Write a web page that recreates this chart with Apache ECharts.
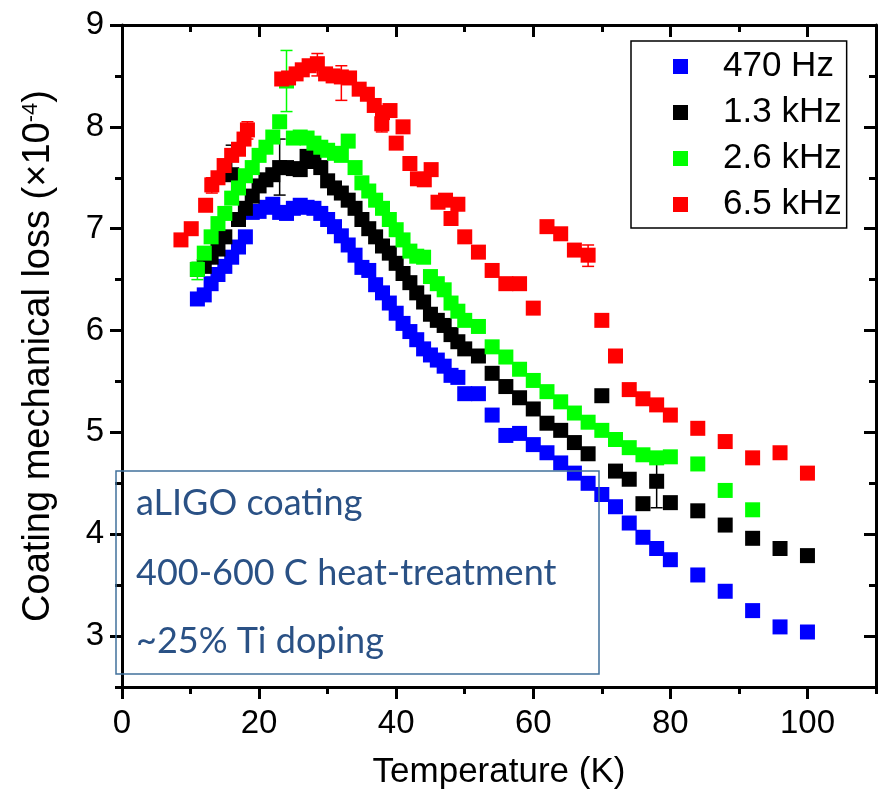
<!DOCTYPE html>
<html lang="en">

<head>
  <meta charset="utf-8">
  <title>Coating mechanical loss vs temperature</title>
  <style>
    * {
      margin: 0;
      padding: 0;
    }

    #chart-container {
      position: relative;
      width: 879px;
      height: 802px;
      overflow: hidden;
    }
  </style>
</head>

<body>
  <div id="chart-container"></div>
  <script src="https://cdn.jsdelivr.net/npm/echarts@6/dist/echarts.min.js"></script>
  <script>
    var dom = document.getElementById('chart-container');
    var myChart = echarts.init(dom, null, {
      renderer: 'canvas',
      useDirtyRect: false
    });

    // data: [temperature K, loss x1e-4]
    var seriesNames = ['470 Hz', '1.3 kHz', '2.6 kHz', '6.5 kHz'];
    var seriesColors = ['#0000ff', '#000000', '#00ff00', '#ff0000'];

    var loss470 = [[11, 6.31], [12, 6.35], [13, 6.46], [14, 6.55], [15, 6.63], [16, 6.72], [17, 6.82], [18, 6.92],
      [19, 7.16], [20, 7.17], [21, 7.21], [22, 7.24], [23, 7.16], [24, 7.15], [25, 7.2], [26, 7.23], [27, 7.21],
      [28, 7.2], [29, 7.15], [30, 7.09], [31, 7.02], [32, 6.93], [33, 6.84], [34, 6.74], [35, 6.62], [36, 6.59],
      [37, 6.45], [38, 6.37], [39, 6.27], [40, 6.17], [41, 6.07], [42, 5.99], [43, 5.91], [44, 5.82], [45, 5.76],
      [46, 5.71], [47, 5.65], [48, 5.56], [49, 5.54], [50, 5.38], [52, 5.38], [54, 5.17], [56, 4.97], [58, 4.99],
      [60, 4.88], [62, 4.8], [64, 4.7], [66, 4.6], [68, 4.5], [70, 4.39], [72, 4.27], [74, 4.11], [76, 3.97],
      [78, 3.86], [80, 3.75], [84, 3.6], [88, 3.44], [92, 3.25], [96, 3.09], [100, 3.04]];

    var loss1300 = [[11, 6.6], [12, 6.63], [13, 6.72], [14, 6.8], [15, 6.92], [16, 7.53], [17, 7.09], [18, 7.2],
      [19, 7.32], [20, 7.42], [21, 7.48], [22, 7.53], [23, 7.6], [24, 7.6], [25, 7.59], [26, 7.58], [27, 7.71],
      [28, 7.66], [29, 7.6], [30, 7.47], [31, 7.4], [32, 7.35], [33, 7.28], [34, 7.2], [35, 7.09], [36, 7.0],
      [37, 6.92], [38, 6.83], [39, 6.76], [40, 6.66], [41, 6.56], [42, 6.47], [43, 6.37], [44, 6.28], [45, 6.16],
      [46, 6.1], [47, 6.05], [48, 5.96], [49, 5.89], [50, 5.82], [52, 5.75], [54, 5.58], [56, 5.45], [58, 5.34],
      [60, 5.23], [62, 5.09], [64, 5.02], [66, 4.9], [68, 4.79], [70, 5.36], [72, 4.62], [74, 4.54], [76, 4.3],
      [78, 4.52], [80, 4.31], [84, 4.23], [88, 4.09], [92, 3.96], [96, 3.86], [100, 3.79]];

    var loss2600 = [[11, 6.6], [12, 6.76], [13, 6.92], [14, 7.05], [15, 7.15], [16, 7.3], [17, 7.4], [18, 7.52],
      [19, 7.6], [20, 7.72], [21, 7.8], [22, 7.9], [23, 8.05], [24, 8.45], [25, 7.89], [26, 7.9], [27, 7.89],
      [28, 7.84], [29, 7.8], [30, 7.77], [31, 7.74], [32, 7.72], [33, 7.86], [34, 7.6], [35, 7.45], [36, 7.37],
      [37, 7.28], [38, 7.2], [39, 7.09], [40, 6.99], [41, 6.89], [42, 6.78], [43, 6.73], [44, 6.72], [45, 6.53],
      [46, 6.46], [47, 6.4], [48, 6.27], [49, 6.19], [50, 6.1], [52, 6.04], [54, 5.84], [56, 5.74], [58, 5.62],
      [60, 5.51], [62, 5.4], [64, 5.3], [66, 5.19], [68, 5.1], [70, 5.02], [72, 4.93], [74, 4.85], [76, 4.78],
      [78, 4.75], [80, 4.76], [84, 4.69], [88, 4.43], [92, 4.24]];

    var loss6500 = [[8.6, 6.89], [10.1, 7.0], [12.2, 7.23], [13.1, 7.43], [14, 7.5], [14.9, 7.62], [16, 7.72],
      [17, 7.78], [17.8, 7.88], [18.3, 7.97], [23.3, 8.47], [24.3, 8.48], [25.4, 8.52], [26.3, 8.56], [27.3, 8.6],
      [28.5, 8.62], [29.7, 8.52], [30.8, 8.5], [32, 8.49], [33.2, 8.48], [34.6, 8.37], [35.8, 8.32], [36.8, 8.21],
      [38, 8.14], [37.9, 8.03], [39.1, 8.16], [40, 7.84], [41, 8.0], [42, 7.64], [43.1, 7.49], [44.1, 7.48],
      [45.1, 7.58], [46.1, 7.26], [47.2, 7.28], [48, 7.1], [49, 7.24], [50, 6.92], [52, 6.77], [54, 6.59],
      [56, 6.46], [58, 6.46], [60, 6.22], [62, 7.02], [64, 6.95], [66, 6.79], [68, 6.74], [70, 6.1], [72, 5.75],
      [74, 5.42], [76, 5.33], [78, 5.27], [80, 5.17], [84, 5.04], [88, 4.91], [92, 4.75], [96, 4.8], [100, 4.6]];

    // error bars: [temperature, low, high]
    var err470 = [[24, 7.09, 7.2]];
    var err1300 = [[16, 7.27, 7.82], [23, 7.33, 7.88], [78, 4.26, 4.78]];
    var err2600 = [[11, 6.5, 6.67], [24, 8.15, 8.75], [78, 4.7, 4.8]];
    var err6500 = [[13.1, 7.35, 7.5], [18.3, 7.88, 8.05], [28.5, 8.5, 8.72], [32, 8.26, 8.6], [37.9, 7.95, 8.1],
      [52, 6.72, 6.82], [68, 6.63, 6.84], [72, 5.69, 5.8]];

    var xTicks = [0, 20, 40, 60, 80, 100];
    var xMinorTicks = [10, 30, 50, 70, 90, 110];
    var yTicks = [3, 4, 5, 6, 7, 8, 9];
    var yMinorTicks = [2.5, 3.5, 4.5, 5.5, 6.5, 7.5, 8.5];

    var noteLines = ['aLIGO coating', '400-600 C heat-treatment', '~25% Ti doping'];

    var allLoss = [loss470, loss1300, loss2600, loss6500];
    var allErr = [err470, err1300, err2600, err6500];

    var axisFont = "'Liberation Sans Narrow', 'Liberation Sans', Arial, sans-serif";
    var textFont = "'Liberation Sans', Arial, sans-serif";
    var noteFont = "36px 'Lato', 'Open Sans', sans-serif";

    function errorBar(params, api) {
      var lo = api.coord([api.value(0), api.value(1)]);
      var hi = api.coord([api.value(0), api.value(2)]);
      var cap = 6;
      var style = { stroke: api.visual('color'), lineWidth: 1.5 };
      return {
        type: 'group',
        children: [
          { type: 'line', shape: { x1: lo[0], y1: lo[1], x2: hi[0], y2: hi[1] }, style: style },
          { type: 'line', shape: { x1: lo[0] - cap, y1: lo[1], x2: lo[0] + cap, y2: lo[1] }, style: style },
          { type: 'line', shape: { x1: hi[0] - cap, y1: hi[1], x2: hi[0] + cap, y2: hi[1] }, style: style }
        ]
      };
    }

    var series = [];
    for (var i = 0; i < allLoss.length; i++) {
      series.push({
        name: seriesNames[i],
        type: 'scatter',
        data: allLoss[i],
        symbol: 'rect',
        symbolSize: 15,
        itemStyle: { color: seriesColors[i], opacity: 1 },
        z: 2 + i * 2
      });
      series.push({
        type: 'custom',
        data: allErr[i],
        renderItem: errorBar,
        itemStyle: { color: seriesColors[i] },
        z: 3 + i * 2,
        silent: true
      });
    }

    function boxAxis(kind, pos, ticks, len, main) {
      return {
        type: 'value',
        position: pos,
        min: kind === 'x' ? 0 : 2.5,
        max: kind === 'x' ? 110 : 9,
        splitLine: { show: false },
        axisLine: { show: main, onZero: false, lineStyle: { color: '#000', width: 3 } },
        axisTick: {
          customValues: ticks,
          length: len,
          inside: pos === 'top' || pos === 'right',
          lineStyle: { color: '#000', width: 3 }
        },
        axisLabel: { show: false }
      };
    }

    var xMain = boxAxis('x', 'bottom', xTicks, 12, true);
    xMain.axisLabel = {
      show: true,
      customValues: xTicks,
      fontSize: 33,
      color: '#000',
      fontFamily: axisFont,
      margin: 20
    };
    xMain.name = 'Temperature (K)';
    xMain.nameLocation = 'middle';
    xMain.nameGap = 68;
    xMain.nameTextStyle = { fontSize: 35, color: '#000', fontFamily: axisFont };

    var yMain = boxAxis('y', 'left', yTicks, 12, true);
    yMain.axisLabel = {
      show: true,
      customValues: yTicks,
      fontSize: 33,
      color: '#000',
      fontFamily: axisFont,
      margin: 18
    };
    yMain.name = 'Coating mechanical loss (\u00d710{sup|-4})';
    yMain.nameLocation = 'middle';
    yMain.nameGap = 64;
    yMain.nameTextStyle = {
      fontSize: 38,
      color: '#000',
      fontFamily: textFont,
      rich: { sup: { fontSize: 22, color: '#000', fontFamily: textFont, verticalAlign: 'top', lineHeight: 22 } }
    };

    var option = {
      backgroundColor: '#fff',
      animation: false,
      grid: { left: 122, right: 3, top: 25, bottom: 115, containLabel: false },
      xAxis: [
        xMain,
        boxAxis('x', 'bottom', xMinorTicks, 7, false),
        boxAxis('x', 'top', xTicks, 12, true),
        boxAxis('x', 'top', xMinorTicks, 7, false)
      ],
      yAxis: [
        yMain,
        boxAxis('y', 'left', yMinorTicks, 7, false),
        boxAxis('y', 'right', yTicks, 12, true),
        boxAxis('y', 'right', yMinorTicks, 7, false)
      ],
      legend: {
        orient: 'vertical',
        left: 631,
        top: 41,
        data: seriesNames,
        icon: 'rect',
        itemWidth: 15,
        itemHeight: 15,
        itemGap: 9,
        padding: [7, 5, 5, 42],
        borderColor: '#000',
        borderWidth: 1.5,
        backgroundColor: '#fff',
        textStyle: { fontSize: 35, color: '#000', fontFamily: textFont, padding: [0, 0, 0, 30], lineHeight: 37 }
      },
      graphic: [
        {
          type: 'rect',
          shape: { x: 116, y: 471, width: 483, height: 203 },
          style: { fill: 'none', stroke: '#41719c', lineWidth: 1.5 },
          z: 10
        },
        {
          type: 'text', x: 136, y: 503,
          style: { text: noteLines[0], font: noteFont, fill: '#2a5185', verticalAlign: 'middle' },
          z: 10
        },
        {
          type: 'text', x: 136, y: 573,
          style: { text: noteLines[1], font: noteFont, fill: '#2a5185', verticalAlign: 'middle' },
          z: 10
        },
        {
          type: 'text', x: 136, y: 641,
          style: { text: noteLines[2], font: noteFont, fill: '#2a5185', verticalAlign: 'middle' },
          z: 10
        }
      ],
      series: series
    };

    myChart.setOption(option);

    window.addEventListener('resize', myChart.resize);
  </script>
</body>

</html>
